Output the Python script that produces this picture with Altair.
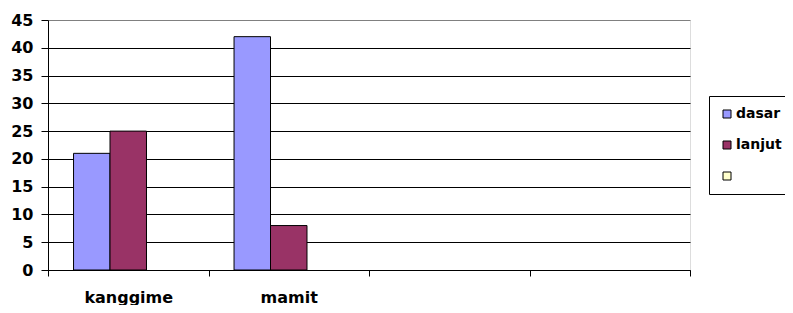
import altair as alt
import pandas as pd

categories = ["kanggime", "mamit", " ", "  "]
series = ["dasar", "lanjut", " "]
dasar = [21, 42, None, None]
lanjut = [25, 8, None, None]
third = [None, None, None, None]
colors = ["#9999FF", "#993366", "#FFFFCC"]
y_ticks = [0, 5, 10, 15, 20, 25, 30, 35, 40, 45]

rows = []
for name, vals in zip(series, [dasar, lanjut, third]):
    for c, v in zip(categories, vals):
        if v is not None:
            rows.append({"cat": c, "series": name, "value": v})
df = pd.DataFrame(rows)

FONT = "DejaVu Sans"

chart = alt.Chart(df).mark_bar(stroke="black", strokeWidth=1).encode(
    x=alt.X("cat:N", sort=categories,
            scale=alt.Scale(domain=categories, paddingInner=0, paddingOuter=0),
            axis=alt.Axis(title=None, labelAngle=0, tickBand="extent", grid=False,
                          domainColor="black", tickColor="black", tickSize=6,
                          labelFont=FONT, labelFontSize=16, labelFontWeight="bold",
                          labelColor="black", labelPadding=13)),
    xOffset=alt.XOffset("series:N", sort=series,
                        scale=alt.Scale(domain=series, paddingInner=0, paddingOuter=0.7)),
    y=alt.Y("value:Q", scale=alt.Scale(domain=[0, 45], nice=False),
            axis=alt.Axis(title=None, values=y_ticks, grid=True,
                          gridColor={"condition": {"test": "datum.value == 45", "value": "#808080"}, "value": "black"},
                          gridOpacity=1, domainColor="black", tickColor="black", tickSize=7,
                          labelFont=FONT, labelFontSize=16, labelFontWeight="bold",
                          labelColor="black", labelPadding=8)),
    color=alt.Color("series:N", sort=series,
                    scale=alt.Scale(domain=series, range=colors),
                    legend=alt.Legend(title=None, orient="none", legendX=661, legendY=76,
                                      symbolType="square", symbolSize=64,
                                      symbolStrokeColor="black", symbolStrokeWidth=1,
                                      labelFont=FONT, labelFontSize=14, labelFontWeight="bold",
                                      labelColor="black", rowPadding=17, labelOffset=2,
                                      strokeColor="black", padding=11,
                                      fillColor="white", labelLimit=200)),
).properties(
    width=642, height=250,
    autosize=alt.AutoSizeParams(type="none"),
    padding={"left": 40, "top": 12, "right": 95, "bottom": 35},
).configure_view(
    fill="#C0C0C0", stroke="#808080", strokeWidth=1
).configure(background="white")

chart.save("out.html", embed_options={"renderer": "svg", "actions": False})
